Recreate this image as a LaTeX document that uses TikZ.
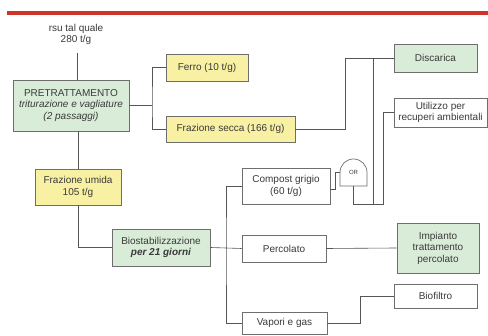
\documentclass[tikz,border=0pt]{standalone}
\usepackage{fontspec}
\setmainfont{Liberation Sans}
\definecolor{boxyel}{HTML}{F8F0A2}
\definecolor{boxgrn}{HTML}{D9ECD8}
\definecolor{edgegray}{HTML}{6E6E6E}
\definecolor{linegray}{HTML}{555555}
\definecolor{txtgray}{HTML}{3A3A3A}
\definecolor{topred}{HTML}{CF3429}
\begin{document}
\begin{tikzpicture}[x=1pt,y=-1pt,
  box/.style={draw=edgegray, line width=0.7pt, inner sep=0pt, align=center,
    text=txtgray, font=\fontsize{10}{11.5}\selectfont},
  yel/.style={box, fill=boxyel},
  grn/.style={box, fill=boxgrn},
  wht/.style={box, fill=white},
  conn/.style={draw=linegray, line width=0.6pt}]
\useasboundingbox (0,0) rectangle (488,336);
\fill[white] (0,0) rectangle (488,336);
\draw[topred, line width=3.5pt] (7,13) -- (488,13);

\node[text=txtgray, font=\fontsize{10}{11}\selectfont, align=center] (rsu) at (76,34) {rsu tal quale\\280 t/g};
\coordinate (in) at (77,53);

\node[grn, minimum width=116, minimum height=51] (pre) at (71,105.5)
  {PRETRATTAMENTO\\\textit{triturazione e vagliature}\\\textit{(2 passaggi)}};
\node[yel, minimum width=82, minimum height=27] (ferro) at (207,67.5) {Ferro (10 t/g)};
\node[yel, minimum width=129, minimum height=26] (secca) at (230.5,129) {Frazione secca (166 t/g)};
\node[yel, minimum width=86, minimum height=36] (umida) at (78,187) {Frazione umida\\105 t/g};
\node[grn, minimum width=98, minimum height=37] (bio) at (161,247.5) {Biostabilizzazione\\\textbf{\textit{per 21 giorni}}};
\node[wht, minimum width=88, minimum height=36] (compost) at (286,186) {Compost grigio\\(60 t/g)};
\node[wht, minimum width=84, minimum height=27] (perc) at (284,248.5) {Percolato};
\node[wht, minimum width=85, minimum height=22] (vapori) at (284.5,323) {Vapori e gas};
\node[grn, minimum width=83, minimum height=28] (disc) at (435.5,58) {Discarica};
\node[wht, minimum width=93, minimum height=29] (util) at (440.5,112.5) {Utilizzo per\\recuperi ambientali};
\node[grn, minimum width=82, minimum height=50] (imp) at (438,248) {Impianto\\trattamento\\percolato};
\node[wht, minimum width=83, minimum height=24] (biof) at (435.5,296) {Biofiltro};

% OR gate
\node[inner sep=0pt, minimum width=27, minimum height=27] (or) at (353.5,172.5) {};
\draw[edgegray, line width=0.7pt, fill=white] (340,186) -- (340,172.5)
  .. controls (340,165) and (346,159) .. (353.5,159)
  .. controls (361,159) and (367,165) .. (367,172.5) -- (367,186) -- cycle;
\node[text=txtgray, font=\fontsize{6}{7}\selectfont] (ortext) at (or) {OR};

% connectors
\draw[conn] (in) -- (in |- pre.north);
\coordinate (br) at (152,105.5);
\draw[conn] (pre.east) -- (br);
\draw[conn] (ferro.west) -| (br) |- (secca.west);
\draw[conn] (umida.north) -- (umida.north |- pre.south);
\draw[conn] (umida.south) |- (bio.west);
\coordinate (bus) at (226,247.5);
\draw[conn] (bio.east) -- (perc.west);
\draw[conn] (compost.west) -| (bus) |- (vapori.west);
\draw[conn] (secca.east) -- ++(50,0) |- (disc.west);
\draw[conn] ([yshift=-3pt]compost.east) -- ++(5,0) |- (or.west);
\coordinate (j1) at (373,204);
\coordinate (j2) at (383,204);
\draw[conn] (or.south) |- (j2) |- (util.west);
\draw[conn] (j1) -- (j1 |- disc.west);
\draw[conn] (perc.east) -- (imp.west);
\draw[conn] (vapori.east) -- ++(33,0) |- (biof.west);
\end{tikzpicture}
\end{document}
